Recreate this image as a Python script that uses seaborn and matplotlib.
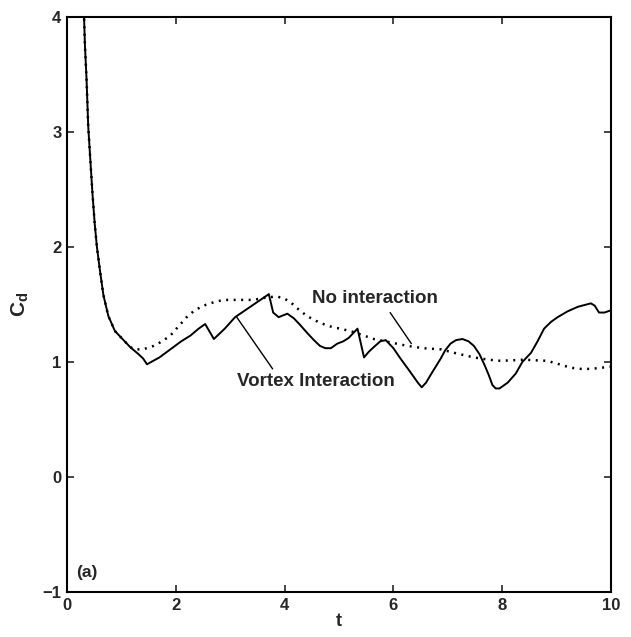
import numpy as np
import pandas as pd
import matplotlib
matplotlib.use("Agg")
import matplotlib.pyplot as plt
import seaborn as sns

# Vortex interaction (solid)
t_vortex = [0.31, 0.33, 0.36, 0.39, 0.43, 0.47, 0.51, 0.55, 0.61, 0.67, 0.76, 0.88, 1.04, 1.16,
            1.31, 1.40, 1.47, 1.70, 1.90, 2.10, 2.27, 2.42, 2.54, 2.70, 2.90, 3.09, 3.40, 3.71,
            3.79, 3.89, 4.05, 4.17, 4.29, 4.42, 4.54, 4.65, 4.75, 4.85, 4.97, 5.08, 5.18, 5.34,
            5.46, 5.55, 5.64, 5.76, 5.86, 6.00, 6.13, 6.30, 6.45, 6.52, 6.60, 6.70, 6.87, 6.95,
            7.05, 7.15, 7.27, 7.38, 7.48, 7.58, 7.67, 7.75, 7.82, 7.88, 7.95, 8.10, 8.25, 8.37,
            8.53, 8.65, 8.77, 8.90, 9.02, 9.20, 9.39, 9.55, 9.63, 9.70, 9.78, 9.88, 10.0]
cd_vortex = [4.05, 3.75, 3.45, 3.05, 2.75, 2.45, 2.2, 2.0, 1.78, 1.58, 1.40, 1.27, 1.19, 1.13,
             1.07, 1.03, 0.98, 1.04, 1.11, 1.18, 1.23, 1.29, 1.33, 1.20, 1.29, 1.39, 1.49, 1.59,
             1.43, 1.39, 1.42, 1.38, 1.32, 1.25, 1.19, 1.14, 1.12, 1.12, 1.16, 1.18, 1.21, 1.29,
             1.04, 1.09, 1.13, 1.18, 1.19, 1.12, 1.03, 0.92, 0.82, 0.78, 0.82, 0.90, 1.03, 1.10,
             1.16, 1.19, 1.20, 1.18, 1.14, 1.07, 0.98, 0.89, 0.80, 0.77, 0.77, 0.82, 0.90, 1.00,
             1.08, 1.18, 1.29, 1.35, 1.39, 1.44, 1.48, 1.50, 1.51, 1.49, 1.43, 1.43, 1.45]

# No interaction (dotted)
t_none = [0.31, 0.33, 0.36, 0.39, 0.43, 0.47, 0.51, 0.55, 0.61, 0.67, 0.76, 0.88, 1.04, 1.16,
          1.25, 1.40, 1.59, 1.75, 1.90, 2.05, 2.20, 2.35, 2.51, 2.70, 2.88, 3.15, 3.43, 3.65,
          3.86, 4.00, 4.11, 4.25, 4.41, 4.65, 4.90, 5.03, 5.27, 5.64, 5.95, 6.26, 6.55, 6.87,
          7.20, 7.48, 7.75, 7.97, 8.40, 8.83, 9.05, 9.26, 9.45, 9.63, 9.82, 10.0]
cd_none = [4.05, 3.75, 3.45, 3.05, 2.75, 2.45, 2.2, 2.0, 1.78, 1.58, 1.40, 1.27, 1.19, 1.13,
           1.11, 1.11, 1.14, 1.18, 1.23, 1.31, 1.39, 1.45, 1.49, 1.52, 1.54, 1.54, 1.54, 1.56,
           1.57, 1.55, 1.52, 1.46, 1.40, 1.34, 1.30, 1.29, 1.26, 1.20, 1.17, 1.14, 1.12, 1.11,
           1.07, 1.04, 1.02, 1.01, 1.02, 1.01, 0.98, 0.95, 0.94, 0.94, 0.95, 0.96]

x_ticks = [0, 2, 4, 6, 8, 10]
y_ticks = [-1, 0, 1, 2, 3, 4]
y_tick_labels = ["\u22121", "0", "1", "2", "3", "4"]

sns.set_style("ticks")
plt.rcParams['font.family'] = ['Liberation Sans', 'DejaVu Sans']
plt.rcParams['mathtext.fontset'] = 'custom'
plt.rcParams['mathtext.rm'] = 'Liberation Sans'
plt.rcParams['mathtext.it'] = 'Liberation Sans:bold'

fig = plt.figure(figsize=(6.31, 6.37), dpi=100)
ax = fig.add_axes([67/631, 1-592/637, (611-67)/631, (592-17)/637])

df_v = pd.DataFrame({"t": t_vortex, "Cd": cd_vortex})
df_n = pd.DataFrame({"t": t_none, "Cd": cd_none})
sns.lineplot(data=df_v, x="t", y="Cd", ax=ax, color="black", lw=1.4, estimator=None, sort=False)
sns.lineplot(data=df_n, x="t", y="Cd", ax=ax, color="black", lw=1.8, estimator=None, sort=False,
             linestyle=(0, (0.8, 2.2)))

ax.set_xlim(0, 10)
ax.set_ylim(-1, 4)
ax.set_xticks(x_ticks)
ax.set_yticks(y_ticks)
ax.set_yticklabels(y_tick_labels)
ax.tick_params(direction="in", length=5, width=1.2, top=True, right=True,
               labelsize=12, pad=4)
for lab in ax.get_xticklabels() + ax.get_yticklabels():
    lab.set_fontweight("bold")
for s in ax.spines.values():
    s.set_visible(True)
    s.set_linewidth(1.5)
    s.set_color("black")

ax.set_xlabel("t", fontsize=13, fontweight="bold", labelpad=0)
ax.set_ylabel("$C_d$", fontsize=15, labelpad=8)

ax.text(4.5, 1.55, "No interaction", fontsize=13.5, fontweight="bold",
        ha="left", va="center")
ax.plot([5.94, 6.33], [1.43, 1.16], color="black", lw=1.0)
ax.text(3.12, 0.83, "Vortex Interaction", fontsize=13.5, fontweight="bold",
        ha="left", va="center")
ax.plot([3.12, 3.78], [1.39, 0.94], color="black", lw=1.0)
ax.text(0.17, -0.83, "(a)", fontsize=12.5, fontweight="bold", ha="left", va="center")

fig.savefig("out.png", dpi=100)
